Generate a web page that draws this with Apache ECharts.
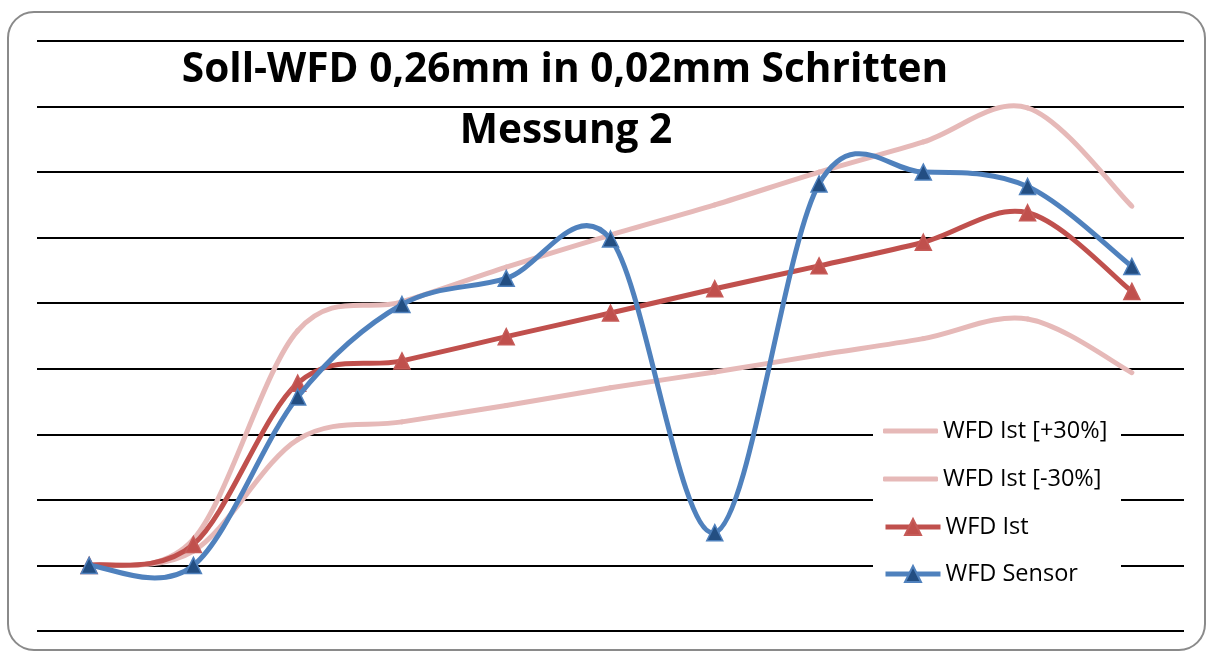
<!DOCTYPE html>
<html>
<head>
<meta charset="utf-8">
<title>Soll-WFD 0,26mm in 0,02mm Schritten – Messung 2</title>
<script src="https://cdn.jsdelivr.net/npm/echarts@6/dist/echarts.min.js"></script>
<style>
  html, body { margin: 0; padding: 0; background: #fff; }
  #chart { width: 1206px; height: 651px; }
</style>
</head>
<body>
<div id="chart"></div>
<script>
// Measurement steps (category axis, labels hidden)
const steps = ['1', '2', '3', '4', '5', '6', '7', '8', '9', '10', '11'];

// Series values in grid units
const wfdIstPlus30  = [1.00, 1.40, 4.58, 5.02, 5.55, 6.04, 6.50, 7.00, 7.46, 7.98, 6.48];
const wfdIstMinus30 = [1.00, 1.22, 2.92, 3.19, 3.44, 3.71, 3.95, 4.21, 4.46, 4.76, 3.94];
const wfdIst        = [1.00, 1.32, 3.78, 4.12, 4.49, 4.85, 5.22, 5.57, 5.93, 6.38, 5.18];
const wfdSensor     = [1.00, 1.00, 3.57, 4.98, 5.38, 5.98, 1.50, 6.82, 7.00, 6.78, 5.56];

const seriesNames = ['WFD Ist [+30%]', 'WFD Ist [-30%]', 'WFD Ist', 'WFD Sensor'];
const titleLines = ['Soll-WFD 0,26mm in 0,02mm Schritten', 'Messung 2'];

const PINK = '#E6B9B8', RED = '#C0504D', BLUE = '#4F81BD', NAVY = '#234E82';
const FONT = '"Open Sans", Lato, sans-serif';
const LEGEND_SIZE = 23.5;
const LINE_W = 5;

// Smoothed curve: one cubic Bezier per segment, Catmull-Rom style tangents
// computed in pixel space from the neighbouring points.
function curveSeries(name, values, color, z) {
  return {
    name: name,
    type: 'custom',
    coordinateSystem: 'cartesian2d',
    data: values.map((v, i) => [i, v]),
    encode: { x: 0, y: 1 },
    color: color,
    itemStyle: { color: color },
    z: z,
    silent: true,
    renderItem: function (params, api) {
      const i = params.dataIndexInside;
      const n = params.dataInsideLength;
      if (i >= n - 1) return null;
      const pt = k => api.coord([api.value(0, k), api.value(1, k)]);
      const p0 = pt(Math.max(i - 1, 0));
      const p1 = pt(i);
      const p2 = pt(i + 1);
      const p3 = pt(Math.min(i + 2, n - 1));
      return {
        type: 'bezierCurve',
        shape: {
          x1: p1[0], y1: p1[1],
          x2: p2[0], y2: p2[1],
          cpx1: p1[0] + (p2[0] - p0[0]) / 6,
          cpy1: p1[1] + (p2[1] - p0[1]) / 6,
          cpx2: p2[0] - (p3[0] - p1[0]) / 6,
          cpy2: p2[1] - (p3[1] - p1[1]) / 6
        },
        style: { stroke: color, lineWidth: LINE_W, fill: 'none', lineCap: 'round' }
      };
    }
  };
}

// Triangle markers at the measured points (line itself drawn by the curve series)
function markerSeries(name, values, lineColor, fill, border, z) {
  return {
    name: name,
    type: 'line',
    data: values,
    symbol: 'triangle',
    symbolSize: 16,
    color: lineColor,
    lineStyle: { color: lineColor, width: LINE_W, opacity: 0 },
    itemStyle: { color: fill, borderColor: border, borderWidth: 1.5 },
    z: z
  };
}

const chart = echarts.init(document.getElementById('chart'), null, { renderer: 'canvas' });

const legendText = { fontFamily: FONT, fontSize: LEGEND_SIZE, color: '#000', lineHeight: 24 };

chart.setOption({
  animation: false,
  backgroundColor: '#fff',
  grid: { left: 37, right: 22, top: 41, bottom: 20 },
  xAxis: {
    type: 'category',
    data: steps,
    boundaryGap: true,
    axisLine: { show: false },
    axisTick: { show: false },
    axisLabel: { show: false },
    splitLine: { show: false }
  },
  yAxis: {
    type: 'value',
    min: 0,
    max: 9,
    interval: 1,
    z: 0,
    axisLine: { show: false },
    axisTick: { show: false },
    axisLabel: { show: false },
    splitLine: { show: true, lineStyle: { color: '#000', width: 2 } }
  },
  legend: [
    {
      data: seriesNames.slice(0, 2),
      orient: 'vertical',
      left: 883,
      top: 419,
      icon: 'roundRect',
      itemWidth: 55,
      itemHeight: 5,
      itemGap: 24,
      padding: 0,
      textStyle: legendText,
      selectedMode: false
    },
    {
      data: seriesNames.slice(2),
      orient: 'vertical',
      left: 883,
      top: 515,
      itemWidth: 55,
      itemHeight: 20,
      itemGap: 23,
      padding: 0,
      lineStyle: { width: LINE_W, opacity: 1 },
      textStyle: legendText,
      selectedMode: false
    }
  ],
  graphic: [
    {
      // chart frame
      type: 'rect',
      z: -1,
      silent: true,
      shape: { x: 8, y: 12, width: 1197, height: 638, r: 26 },
      style: { fill: 'none', stroke: '#8a8a8a', lineWidth: 2 }
    },
    {
      // legend backdrop
      type: 'rect',
      z: 1,
      silent: true,
      shape: { x: 873, y: 410, width: 248, height: 185 },
      style: { fill: '#fff' }
    },
    {
      type: 'text',
      x: 565, y: 70,
      z: 10,
      style: {
        text: titleLines[0],
        font: 'bold 40.6px ' + FONT,
        fill: '#000',
        align: 'center',
        verticalAlign: 'middle'
      }
    },
    {
      type: 'text',
      x: 566, y: 131,
      z: 10,
      style: {
        text: titleLines[1],
        font: 'bold 40.6px ' + FONT,
        fill: '#000',
        align: 'center',
        verticalAlign: 'middle'
      }
    }
  ],
  series: [
    markerSeries(seriesNames[2], wfdIst, RED, RED, '#C65B58', 4),
    markerSeries(seriesNames[3], wfdSensor, BLUE, NAVY, BLUE, 6),
    curveSeries(seriesNames[0], wfdIstPlus30, PINK, 2),
    curveSeries(seriesNames[1], wfdIstMinus30, PINK, 2),
    curveSeries('WFD Ist Kurve', wfdIst, RED, 3),
    curveSeries('WFD Sensor Kurve', wfdSensor, BLUE, 5)
  ]
});
</script>
</body>
</html>
